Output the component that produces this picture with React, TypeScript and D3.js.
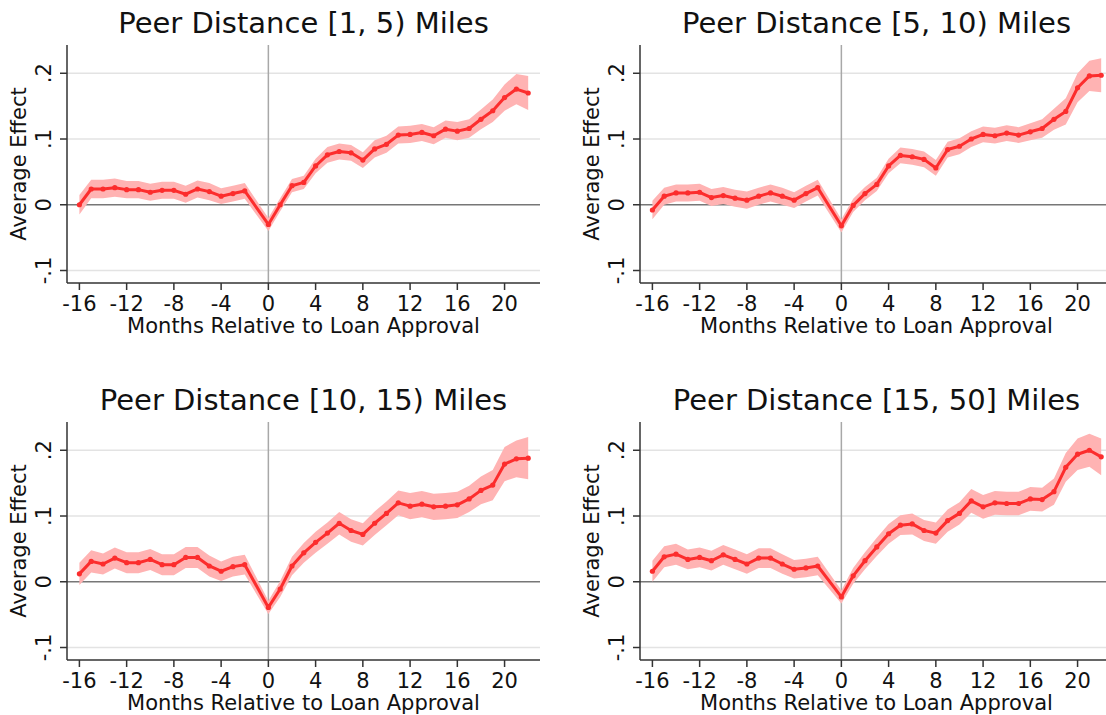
import React from 'react';
import * as d3 from 'd3';

// months relative to loan approval (-1 is the omitted reference month)
const months = [-16, -15, -14, -13, -12, -11, -10, -9, -8, -7, -6, -5, -4, -3, -2,
  0, 1, 2, 3, 4, 5, 6, 7, 8, 9, 10, 11, 12, 13, 14, 15, 16, 17, 18, 19, 20, 21, 22];

const titles = [
  'Peer Distance [1, 5) Miles',
  'Peer Distance [5, 10) Miles',
  'Peer Distance [10, 15) Miles',
  'Peer Distance [15, 50] Miles',
];

// point estimates
const est1 = [0.000, 0.024, 0.024, 0.026, 0.023, 0.023, 0.019, 0.022, 0.022, 0.016, 0.024, 0.020, 0.013, 0.017, 0.021,
  -0.030, 0.000, 0.029, 0.034, 0.059, 0.076, 0.081, 0.079, 0.068, 0.085, 0.092, 0.106, 0.107, 0.110, 0.105, 0.115, 0.112, 0.116, 0.130, 0.143, 0.163, 0.176, 0.170];
const est2 = [-0.008, 0.013, 0.018, 0.018, 0.019, 0.011, 0.014, 0.010, 0.007, 0.013, 0.018, 0.013, 0.007, 0.017, 0.026,
  -0.032, -0.001, 0.017, 0.031, 0.059, 0.075, 0.073, 0.069, 0.056, 0.084, 0.089, 0.100, 0.107, 0.105, 0.109, 0.106, 0.111, 0.116, 0.130, 0.142, 0.178, 0.196, 0.197];
const est3 = [0.012, 0.031, 0.027, 0.036, 0.029, 0.029, 0.034, 0.026, 0.026, 0.037, 0.037, 0.024, 0.016, 0.023, 0.026,
  -0.039, -0.011, 0.024, 0.044, 0.060, 0.074, 0.089, 0.078, 0.072, 0.089, 0.104, 0.120, 0.115, 0.118, 0.114, 0.115, 0.117, 0.126, 0.139, 0.147, 0.179, 0.187, 0.188];
const est4 = [0.016, 0.038, 0.042, 0.034, 0.037, 0.032, 0.041, 0.034, 0.027, 0.036, 0.036, 0.027, 0.019, 0.021, 0.024,
  -0.023, 0.009, 0.032, 0.053, 0.073, 0.086, 0.088, 0.078, 0.074, 0.093, 0.104, 0.123, 0.114, 0.120, 0.119, 0.119, 0.126, 0.125, 0.137, 0.174, 0.194, 0.200, 0.190];

// half-widths of the confidence band
const ci1 = [0.015, 0.014, 0.014, 0.014, 0.013, 0.013, 0.013, 0.013, 0.013, 0.013, 0.013, 0.013, 0.012, 0.012, 0.012,
  0.010, 0.010, 0.010, 0.010, 0.011, 0.012, 0.012, 0.012, 0.012, 0.013, 0.013, 0.013, 0.013, 0.013, 0.013, 0.013, 0.014, 0.014, 0.015, 0.017, 0.020, 0.023, 0.026];
const ci2 = [0.014, 0.013, 0.013, 0.013, 0.013, 0.013, 0.013, 0.013, 0.013, 0.013, 0.013, 0.013, 0.012, 0.012, 0.012,
  0.010, 0.010, 0.010, 0.010, 0.011, 0.012, 0.012, 0.012, 0.012, 0.012, 0.012, 0.012, 0.012, 0.012, 0.012, 0.012, 0.013, 0.014, 0.016, 0.020, 0.022, 0.023, 0.026];
const ci3 = [0.017, 0.017, 0.016, 0.016, 0.016, 0.016, 0.016, 0.016, 0.016, 0.016, 0.016, 0.016, 0.015, 0.015, 0.015,
  0.010, 0.012, 0.014, 0.015, 0.016, 0.016, 0.017, 0.017, 0.017, 0.018, 0.018, 0.019, 0.020, 0.020, 0.020, 0.020, 0.020, 0.020, 0.021, 0.023, 0.026, 0.028, 0.032];
const ci4 = [0.016, 0.016, 0.016, 0.015, 0.015, 0.015, 0.015, 0.015, 0.015, 0.015, 0.015, 0.015, 0.014, 0.014, 0.014,
  0.010, 0.012, 0.013, 0.014, 0.015, 0.015, 0.016, 0.016, 0.016, 0.017, 0.017, 0.018, 0.018, 0.018, 0.018, 0.018, 0.018, 0.018, 0.020, 0.022, 0.024, 0.025, 0.028];

const xTicks = [-16, -12, -8, -4, 0, 4, 8, 12, 16, 20];
const yTicks = [0.2, 0.1, 0, -0.1];
const yTickLabels = ['.2', '.1', '0', '-.1'];

const series = [
  { est: est1, ci: ci1 },
  { est: est2, ci: ci2 },
  { est: est3, ci: ci3 },
  { est: est4, ci: ci4 },
];

const font = 'DejaVu Sans, Verdana, sans-serif';

const Panel = ({ title, est, ci, dx, dy }) => {
  const left = 67, right = 540, top = 45, bottom = 283;

  const x = d3.scaleLinear().domain([-17.05, 23.0]).range([left, right]);
  const y = d3.scaleLinear().domain([-0.119, 0.243]).range([bottom, top]);

  const rows = months.map((m, i) => ({ m, v: est[i], lo: est[i] - ci[i], hi: est[i] + ci[i] }));

  const area = d3.area()
    .x(d => x(d.m))
    .y0(d => y(d.lo))
    .y1(d => y(d.hi));

  const line = d3.line()
    .x(d => x(d.m))
    .y(d => y(d.v));

  return (
    <g transform={`translate(${dx},${dy})`}>
      <text x={(left + right) / 2} y={33} textAnchor="middle" fontSize={29} fontFamily={font} fill="#111">{title}</text>

      {/* grid lines */}
      {yTicks.filter(t => t !== 0).map(t => (
        <line key={t} x1={left} x2={right} y1={y(t)} y2={y(t)} stroke="#e3e3e3" strokeWidth={1.5} />
      ))}
      <line x1={left} x2={right} y1={y(0)} y2={y(0)} stroke="#777" strokeWidth={1.5} />
      <line x1={x(0)} x2={x(0)} y1={top} y2={bottom} stroke="#a8a8a8" strokeWidth={1.5} />

      {/* confidence band, estimates */}
      <path d={area(rows)} fill="#ffb3b3" />
      <path d={line(rows)} fill="none" stroke="#fc2d2d" strokeWidth={3} strokeLinejoin="round" />
      {rows.map(d => (
        <circle key={d.m} cx={x(d.m)} cy={y(d.v)} r={2.6} fill="#fc2d2d" />
      ))}

      {/* y axis */}
      <line x1={left} x2={left} y1={top} y2={bottom} stroke="#333" strokeWidth={1.5} />
      {yTicks.map((t, i) => (
        <g key={t}>
          <line x1={left - 7} x2={left} y1={y(t)} y2={y(t)} stroke="#333" strokeWidth={1.5} />
          <text transform={`translate(${left - 16},${y(t)}) rotate(-90)`} textAnchor="middle"
            fontSize={21} fontFamily={font} fill="#111">{yTickLabels[i]}</text>
        </g>
      ))}
      <text transform={`translate(26,${(top + bottom) / 2}) rotate(-90)`} textAnchor="middle"
        fontSize={21} fontFamily={font} fill="#111">Average Effect</text>

      {/* x axis */}
      <line x1={left} x2={right} y1={bottom} y2={bottom} stroke="#333" strokeWidth={1.5} />
      {xTicks.map(t => (
        <g key={t}>
          <line x1={x(t)} x2={x(t)} y1={bottom} y2={bottom + 7} stroke="#333" strokeWidth={1.5} />
          <text x={x(t)} y={311} textAnchor="middle" fontSize={21} fontFamily={font} fill="#111">{t}</text>
        </g>
      ))}
      <text x={(left + right) / 2} y={333} textAnchor="middle" fontSize={21} fontFamily={font} fill="#111">
        Months Relative to Loan Approval
      </text>
    </g>
  );
};

export default function App() {
  const offsets = [[0, 0], [573, 0], [0, 377], [573, 377]];
  return (
    <svg width={1106} height={715} style={{ position: 'absolute', left: 0, top: 0, background: '#fff' }}>
      <rect width={1106} height={715} fill="#fff" />
      {series.map((s, i) => (
        <Panel key={i} title={titles[i]} est={s.est} ci={s.ci} dx={offsets[i][0]} dy={offsets[i][1]} />
      ))}
    </svg>
  );
}
